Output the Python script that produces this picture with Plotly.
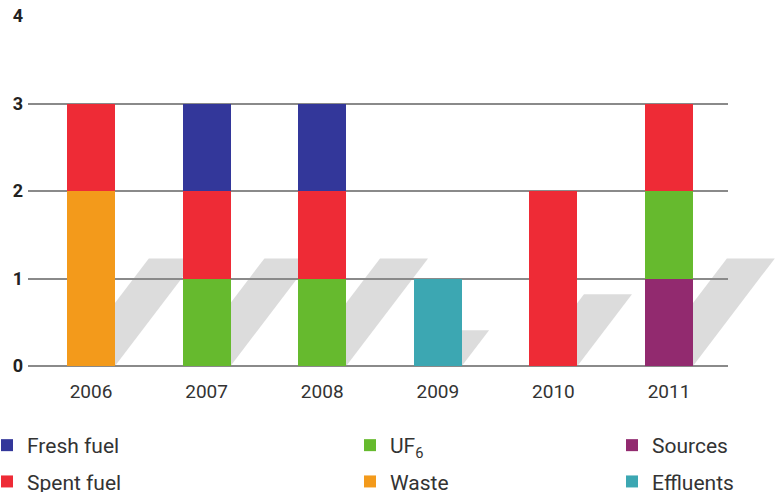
import plotly.graph_objects as go

years = ["2006", "2007", "2008", "2009", "2010", "2011"]
sources = [0, 0, 0, 0, 0, 1]
effluents = [0, 0, 0, 1, 0, 0]
waste = [2, 0, 0, 0, 0, 0]
uf6 = [0, 1, 1, 0, 0, 1]
spent_fuel = [1, 1, 1, 0, 2, 1]
fresh_fuel = [0, 1, 1, 0, 0, 0]
shadow_heights = [1.23, 1.23, 1.23, 0.41, 0.82, 1.23]
y_ticks = [0, 1, 2, 3, 4]

W, H = 778, 492
ML, MR, MT, MB = 28, 50, 16, 126
PW, PH = W - ML - MR, H - MT - MB
X0, X1 = -0.545, 5.51
Y0, Y1 = 0, 4
BARW = 0.415
SLANT = 0.76  # horizontal px per vertical px

series = [
    ("Sources", sources, "#922a6f", "legend3", 1),
    ("Effluents", effluents, "#3ca7b2", "legend3", 2),
    ("Waste", waste, "#f39a1b", "legend2", 2),
    ("UF<sub>6</sub>", uf6, "#66ba2e", "legend2", 1),
    ("Spent fuel", spent_fuel, "#ee2b36", "legend", 2),
    ("Fresh fuel", fresh_fuel, "#33379a", "legend", 1),
]

fig = go.Figure()
for name, vals, color, leg, rank in series:
    fig.add_trace(go.Bar(
        x=years, y=vals, name=name, marker=dict(color=color, line=dict(width=0)),
        width=BARW, legend=leg, legendrank=rank, legendgroup=name,
    ))


def xp(v):
    return (v - X0) / (X1 - X0)


def yp(v):
    return (v - Y0) / (Y1 - Y0)


shapes = []
for i, h in enumerate(shadow_heights):
    d = h / (Y1 - Y0) * PH * SLANT / PW
    xa, xb = xp(i - BARW / 2), xp(i + BARW / 2)
    path = (f"M{xa},{yp(0)} L{xb},{yp(0)} L{xb + d},{yp(h)} "
            f"L{xa + d},{yp(h)} Z")
    shapes.append(dict(type="path", path=path, xref="paper", yref="paper",
                       fillcolor="#dcdcdc", line=dict(width=0), layer="below"))

legend_common = dict(orientation="v", xanchor="left", yanchor="top",
                     bgcolor="rgba(0,0,0,0)", traceorder="grouped",
                     tracegroupgap=6,
                     font=dict(family="Roboto", size=21, color="#333333"))
ly = -(425 - (H - MB)) / PH

fig.update_layout(
    width=W, height=H,
    margin=dict(l=ML, r=MR, t=MT, b=MB, autoexpand=False),
    paper_bgcolor="white", plot_bgcolor="rgba(0,0,0,0)",
    barmode="stack", bargap=0,
    shapes=shapes,
    showlegend=True,
    legend=dict(x=(-13 - ML) / PW, y=ly, **legend_common),
    legend2=dict(x=(350 - ML) / PW, y=ly, **legend_common),
    legend3=dict(x=(612 - ML) / PW, y=ly, **legend_common),
    xaxis=dict(type="category", range=[X0, X1], showgrid=False, zeroline=False,
               showline=False, ticks="", ticklabelstandoff=12, automargin=False,
               tickfont=dict(family="Roboto", size=19, color="#333333")),
    yaxis=dict(range=[Y0, Y1], tickvals=y_ticks, showgrid=True, automargin=False,
               gridcolor="#8a8a8a", gridwidth=2, zeroline=True,
               zerolinecolor="#8a8a8a", zerolinewidth=2, showline=False,
               ticks="", ticklabelstandoff=4,
               tickfont=dict(family="Roboto", size=18, color="#222222",
                             weight="bold")),
)

fig.write_html(
    "out.html",
    config={"displayModeBar": False},
    post_script="document.body.style.margin='0';document.body.style.overflow='hidden';",
)
